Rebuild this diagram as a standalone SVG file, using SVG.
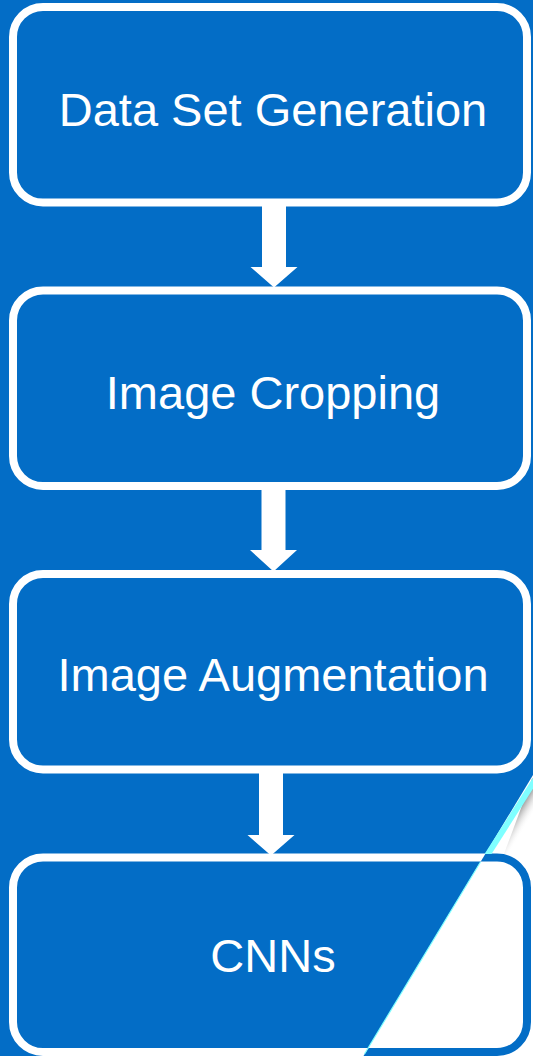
<svg xmlns="http://www.w3.org/2000/svg" width="533" height="1056" viewBox="0 0 533 1056">
  <style>
    .box { fill: #036DC6; stroke: #FFFFFF; stroke-width: 8; }
    .boxinv { fill: #FFFFFF; stroke: #036DC6; stroke-width: 8; }
    .lbl { font-family: "Liberation Sans", Arial, sans-serif; font-size: 47px; fill: #FFFFFF; text-anchor: middle; }
    .arrow { fill: #FFFFFF; }
  </style>
  <defs>
    <clipPath id="curlClip">
      <polygon points="542,760 533,760 533,1056 363.5,1056"/>
    </clipPath>
    <clipPath id="curlClip2">
      <polygon points="542,760 600,760 600,1100 337,1100"/>
    </clipPath>
    <linearGradient id="shadowGrad" gradientUnits="userSpaceOnUse" x1="518.9" y1="810" x2="531" y2="817.2">
      <stop offset="0" stop-color="#8c8c8c" stop-opacity="0.85"/>
      <stop offset="1" stop-color="#FFFFFF" stop-opacity="0"/>
    </linearGradient>
  </defs>

  <rect x="0" y="0" width="533" height="1056" fill="#036DC6"/>

  <g id="connectors">
    <path class="arrow" d="M262,202 L286,202 L286,267 L297.5,267 L274,287.5 L250.5,267 L262,267 Z"/>
    <path class="arrow" d="M261.5,486 L285.5,486 L285.5,550 L297,550 L273.5,571.5 L250,550 L261.5,550 Z"/>
    <path class="arrow" d="M259,770 L283,770 L283,835 L294.5,835 L271,855.5 L247.5,835 L259,835 Z"/>
  </g>

  <g id="node1">
    <rect class="box" x="13" y="7" width="514" height="195.5" rx="30" ry="30"/>
    <text class="lbl" x="273" y="125.5">Data Set Generation</text>
  </g>
  <g id="node2">
    <rect class="box" x="13" y="290.5" width="514" height="195.5" rx="30" ry="30"/>
    <text class="lbl" x="273" y="408.5">Image Cropping</text>
  </g>
  <g id="node3">
    <rect class="box" x="13" y="574" width="514" height="195.5" rx="30" ry="30"/>
    <text class="lbl" x="273" y="691">Image Augmentation</text>
  </g>
  <g id="node4">
    <rect class="box" x="13" y="857.5" width="514" height="194.5" rx="30" ry="30"/>
    <text class="lbl" x="273" y="972">CNNs</text>
  </g>

  <g id="pagecurl">
    <g clip-path="url(#curlClip2)">
      <rect x="300" y="760" width="233" height="296" fill="#FFFFFF"/>
      <rect class="boxinv" x="13" y="857.5" width="514" height="194.5" rx="30" ry="30"/>
    </g>
    <polygon points="532,778.5 560,778.5 560,854 504,854" fill="url(#shadowGrad)"/>
    <polygon points="536,773 543,773 491.5,854 484.5,854" fill="#7FFFFF"/>
    <line x1="480.5" y1="862" x2="364.5" y2="1054" stroke="#7FFFFF" stroke-width="1.2"/>
  </g>
</svg>
